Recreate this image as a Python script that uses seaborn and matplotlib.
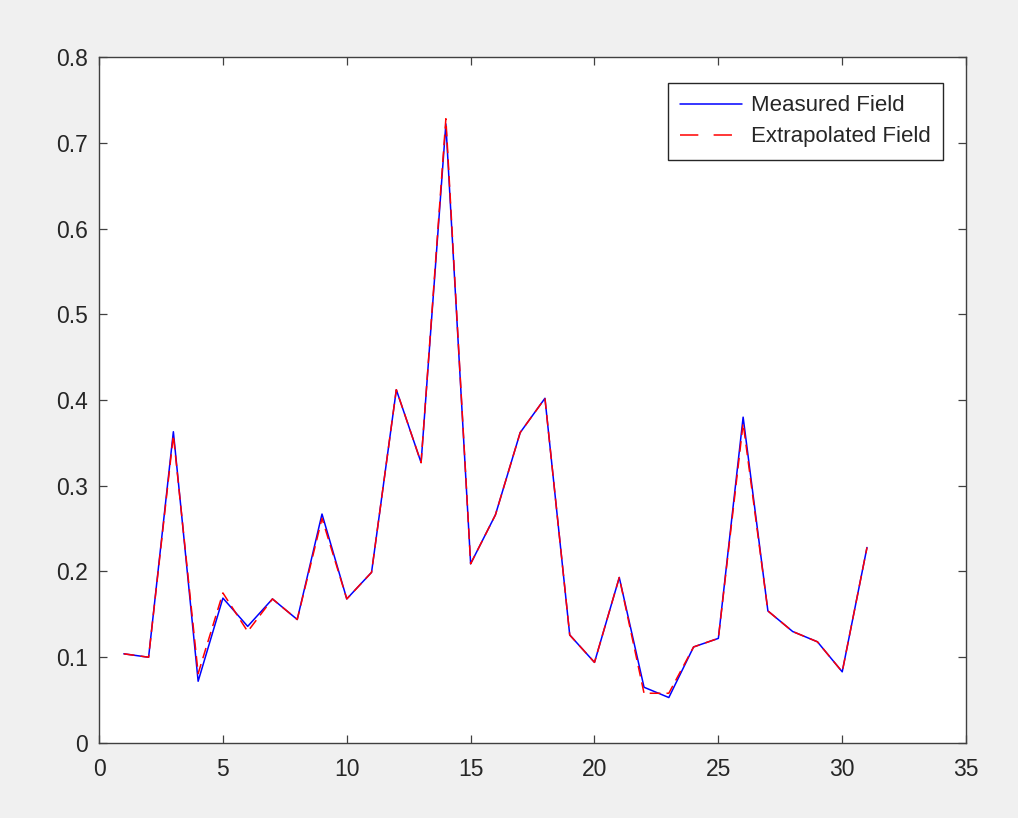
import numpy as np
import pandas as pd
import matplotlib
matplotlib.use("Agg")
import matplotlib.pyplot as plt
import seaborn as sns

# values
x_index = list(range(1, 32))
measured = [0.104, 0.100, 0.363, 0.072, 0.169, 0.136, 0.168, 0.144, 0.267, 0.168,
            0.199, 0.412, 0.327, 0.722, 0.209, 0.266, 0.362, 0.402, 0.126, 0.094,
            0.193, 0.065, 0.053, 0.112, 0.122, 0.380, 0.154, 0.130, 0.118, 0.083,
            0.228]
extrapolated = [0.104, 0.100, 0.359, 0.081, 0.175, 0.130, 0.168, 0.144, 0.262, 0.168,
                0.199, 0.412, 0.327, 0.728, 0.209, 0.266, 0.362, 0.402, 0.126, 0.094,
                0.193, 0.058, 0.058, 0.112, 0.122, 0.373, 0.154, 0.130, 0.118, 0.083,
                0.228]

df = pd.DataFrame({"x": x_index, "Measured Field": measured,
                   "Extrapolated Field": extrapolated})

sns.set_style("white")
plt.rcParams["font.family"] = ["Liberation Sans", "DejaVu Sans"]

fig = plt.figure(figsize=(10.18, 8.18), dpi=100, facecolor="#f0f0f0")
ax = fig.add_axes([0.0973, 0.0917, 0.8517, 0.8386])
ax.set_facecolor("white")

sns.lineplot(data=df, x="x", y="Measured Field", ax=ax, color="#0000ff",
             linewidth=1.1, label="Measured Field")
sns.lineplot(data=df, x="x", y="Extrapolated Field", ax=ax, color="#ff0000",
             linewidth=1.1, linestyle=(0, (7, 4)), label="Extrapolated Field")

ax.set_xlim(0, 35)
ax.set_ylim(0, 0.8)
ax.set_xticks(np.arange(0, 36, 5))
ax.set_yticks(np.arange(0, 0.81, 0.1))
ax.set_yticklabels(["0"] + [f"{v:.1f}" for v in np.arange(0.1, 0.81, 0.1)])
ax.set_xlabel("")
ax.set_ylabel("")

for s in ax.spines.values():
    s.set_color("#404040")
    s.set_linewidth(1.0)
ax.tick_params(direction="in", length=6, width=0.9, color="#404040",
               labelcolor="#262626", labelsize=16.5, top=True, right=True,
               bottom=True, left=True, pad=8)
ax.tick_params(axis="x", pad=11)

leg = ax.legend(loc="upper right", bbox_to_anchor=(0.9735, 0.962), fontsize=16,
                frameon=True, fancybox=False, framealpha=1, edgecolor="#262626",
                handlelength=2.8, handletextpad=0.4, borderpad=0.55,
                labelspacing=0.45, borderaxespad=0)
leg.get_frame().set_linewidth(1.0)
# legend dash in the reference is longer than in the plot
leg.get_lines()[1].set_dashes([12, 10])

fig.savefig("out.png", dpi=100, facecolor=fig.get_facecolor())
